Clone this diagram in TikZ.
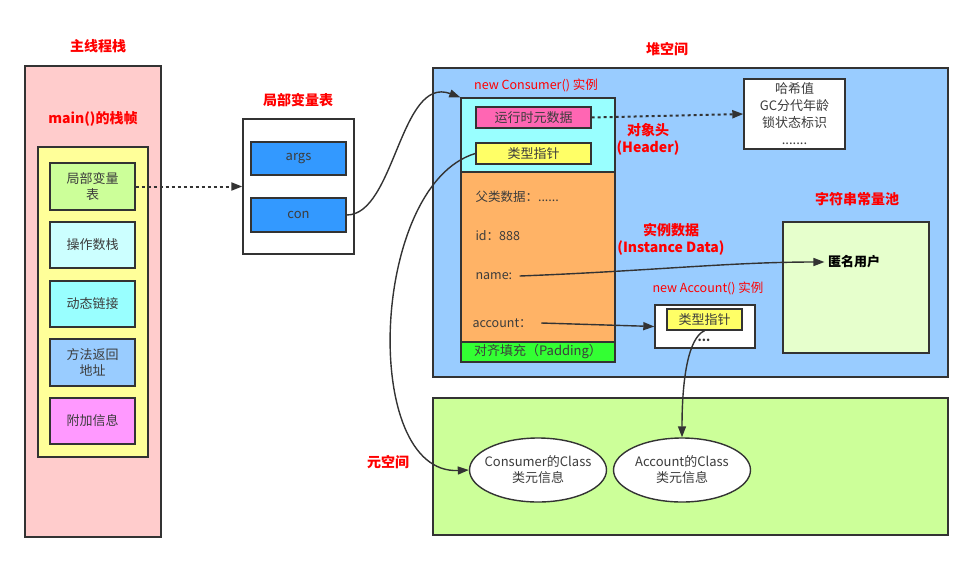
\documentclass[tikz,border=0pt]{standalone}
\usepackage{fontspec}
\setmainfont{Noto Sans CJK SC}
\usetikzlibrary{arrows.meta,positioning,shapes.geometric,calc}

\begin{document}
\begin{tikzpicture}[x=1pt,y=-1pt,
  box/.style={draw=linegray,line width=1.4pt},
  part/.style={box,inner sep=0pt,align=center,text=textgray,font=\fontsize{13}{16}\selectfont},
  title/.style={text=red,font=\bfseries\fontsize{14}{17}\selectfont,align=center},
  note/.style={text=red,font=\fontsize{12.5}{14}\selectfont},
  field/.style={anchor=west,text=textgray,font=\fontsize{12.5}{14}\selectfont},
  classinfo/.style={box,ellipse,fill=white,minimum width=137pt,minimum height=64pt,
    inner xsep=-10pt,inner ysep=-4pt,align=center,text=textgray,font=\fontsize{13}{16}\selectfont},
  link/.style={draw=linegray,line width=1.4pt,-{Triangle[length=11pt,width=8pt]}},
  dotlink/.style={link,line width=2pt,dash pattern=on 3pt off 3pt}]
% Define colors
\definecolor{linegray}{RGB}{51,51,51}
\definecolor{textgray}{RGB}{60,60,60}
\definecolor{stackpink}{RGB}{255,204,204}
\definecolor{frameyellow}{RGB}{255,255,153}
\definecolor{lvgreen}{RGB}{204,255,153}
\definecolor{opcyan}{RGB}{204,255,255}
\definecolor{dyncyan}{RGB}{153,255,255}
\definecolor{retblue}{RGB}{153,204,255}
\definecolor{addpink}{RGB}{255,153,255}
\definecolor{slotblue}{RGB}{51,153,255}
\definecolor{heapblue}{RGB}{153,204,255}
\definecolor{markpink}{RGB}{255,102,179}
\definecolor{ptryellow}{RGB}{255,255,102}
\definecolor{bodyorange}{RGB}{255,179,102}
\definecolor{padgreen}{RGB}{51,255,51}
\definecolor{poolgreen}{RGB}{230,255,204}
\definecolor{metagreen}{RGB}{204,255,153}

\useasboundingbox (0,0) rectangle (974,563);

% Left panel: thread stack
\node[title] (stackT) at (98,46) {主线程栈};
\node[box,fill=stackpink,minimum width=136pt,minimum height=471pt] (stack) at (93,301.5) {};
\node[title] (frameT) at (93,119) {main()的栈帧};
\node[box,fill=frameyellow,minimum width=110pt,minimum height=310pt] (frame) at (93,302) {};
\node[part,fill=lvgreen,minimum width=85pt,minimum height=47pt] (lv) at (92.5,186.5) {局部变量\\表};
\node[part,fill=opcyan,minimum width=85pt,minimum height=46pt] (ops) at (92.5,245) {操作数栈};
\node[part,fill=dyncyan,minimum width=85pt,minimum height=46pt] (dyn) at (92.5,304) {动态链接};
\node[part,fill=retblue,minimum width=85pt,minimum height=47pt] (ret) at (92.5,362.5) {方法返回\\地址};
\node[part,fill=addpink,minimum width=85pt,minimum height=46pt] (add) at (92.5,421) {附加信息};

% Local variable table
\node[title] (lvtT) at (298,100) {局部变量表};
\node[box,fill=white,minimum width=111pt,minimum height=135pt] (lvt) at (298.5,186.5) {};
\node[part,fill=slotblue,minimum width=95pt,minimum height=33pt] (args) at (298.5,158.5) {args};
\node[part,fill=slotblue,minimum width=95pt,minimum height=34pt] (con) at (298.5,215) {con};

% Heap
\node[box,fill=heapblue,minimum width=515pt,minimum height=309pt] (heap) at (690.5,222.5) {};
\node[title] (heapT) at (667,49) {堆空间};
\node[note] (consT) at (536,85) {new Consumer() 实例};
\node[box,fill=dyncyan,minimum width=154pt,minimum height=74pt] (header) at (538,135) {};
\node[part,fill=markpink,minimum width=115pt,minimum height=21pt] (rtmeta) at (533.5,117.5) {运行时元数据};
\node[part,fill=ptryellow,minimum width=115pt,minimum height=21pt] (ptr) at (533.5,153.5) {类型指针};
\node[box,fill=bodyorange,minimum width=154pt,minimum height=170pt] (body) at (538,257) {};
\node[part,fill=padgreen,minimum width=154pt,minimum height=20pt] (pad) at (538,352) {对齐填充（Padding）};
\node[field] (superT) at (472,197) {父类数据：......};
\node[field] (idT) at (472,236) {id：888};
\node[field] (nameT) at (472,276) {name:};
\node[field] (acctT) at (469,323) {account：};
\node[title] (headT) at (648,139) {对象头\\(Header)};
\node[title] (instT) at (671,239.5) {实例数据\\(Instance Data)};
\node[box,fill=white,minimum width=101pt,minimum height=70pt,align=center,text=textgray,
  font=\fontsize{13}{17}\selectfont] (hash) at (794.5,114) {哈希值\\GC分代年龄\\锁状态标识\\.......};
\node[title] (poolT) at (857,199) {字符串常量池};
\node[box,fill=poolgreen,minimum width=146pt,minimum height=131pt] (pool) at (856,287.5) {};
\node[font=\bfseries\fontsize{13}{14}\selectfont,text=black] (anon) at (854,262) {匿名用户};
\node[note] (accT) at (708,288) {new Account() 实例};
\node[box,fill=white,minimum width=100pt,minimum height=43pt] (acc) at (705,326.5) {};
\node[part,fill=ptryellow,minimum width=75pt,minimum height=21pt] (accptr) at (704.5,319.5) {类型指针};
\node[font=\bfseries\fontsize{12}{12}\selectfont,text=linegray] (accdots) at (704,340) {...};

% Metaspace
\node[box,fill=metagreen,minimum width=515pt,minimum height=137pt] (mspace) at (690.5,466.5) {};
\node[title] (mspaceT) at (388,462) {元空间};
\node[classinfo] (class1) at (538,470) {Consumer的Class\\类元信息};
\node[classinfo] (class2) at (682,470) {Account的Class\\类元信息};

% Connectors
\draw[dotlink] (lv.east) -- (lvt.west);
\draw[dotlink] (rtmeta.east) -- (hash.west);
\draw[link] (con.east) .. controls (395,215) and (400,75) .. (header.north west);
\draw[link] (ptr.west) .. controls (370,185) and (360,475) .. (class1.west);
\draw[link] ([xshift=4pt]nameT.east) .. controls (650,271) and (730,262) .. (anon.west);
\draw[link] ([xshift=6pt]acctT.east) -- (acc.west);
\draw[link] (accptr.south) .. controls (688,338) and (682,380) .. (class2.north);
\end{tikzpicture}
\end{document}
